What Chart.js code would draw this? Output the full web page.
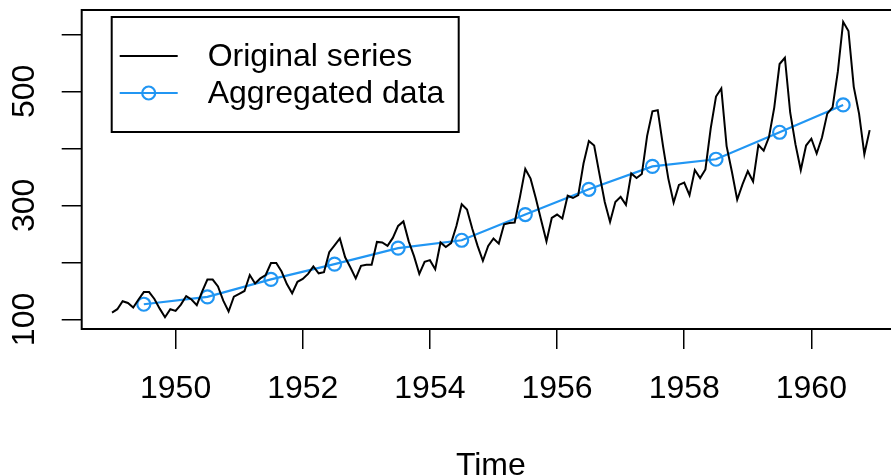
<!DOCTYPE html>
<html>
<head>
<meta charset="utf-8">
<script src="https://cdn.jsdelivr.net/npm/chart.js@4/dist/chart.umd.min.js"></script>
<style>
  html, body { margin: 0; padding: 0; background: #fff; overflow: hidden; }
  #wrap { width: 891px; height: 476px; overflow: hidden; }
</style>
</head>
<body>
<div id="wrap"><canvas id="chart" width="910" height="476"></canvas></div>
<script>
// Monthly airline passengers (thousands), Jan 1949 - Dec 1960
const startYear = 1949;
const passengers = [
  112, 118, 132, 129, 121, 135, 148, 148, 136, 119, 104, 118,
  115, 126, 141, 135, 125, 149, 170, 170, 158, 133, 114, 140,
  145, 150, 178, 163, 172, 178, 199, 199, 184, 162, 146, 166,
  171, 180, 193, 181, 183, 218, 230, 242, 209, 191, 172, 194,
  196, 196, 236, 235, 229, 243, 264, 272, 237, 211, 180, 201,
  204, 188, 235, 227, 234, 264, 302, 293, 259, 229, 203, 229,
  242, 233, 267, 269, 270, 315, 364, 347, 312, 274, 237, 278,
  284, 277, 317, 313, 318, 374, 413, 405, 355, 306, 271, 306,
  315, 301, 356, 348, 355, 422, 465, 467, 404, 347, 305, 336,
  340, 318, 362, 348, 363, 435, 491, 505, 404, 359, 310, 337,
  360, 342, 406, 396, 420, 472, 548, 559, 463, 407, 362, 405,
  417, 391, 419, 461, 472, 535, 622, 606, 508, 461, 390, 432
];

// yearly aggregated values, placed mid-year
const aggYears = [1949.5, 1950.5, 1951.5, 1952.5, 1953.5, 1954.5, 1955.5, 1956.5, 1957.5, 1958.5, 1959.5, 1960.5];
const aggValues = [126.7, 139.7, 170.2, 197.0, 225.0, 238.9, 284.0, 328.3, 368.4, 381.0, 428.3, 476.2];

const xTicks = [1950, 1952, 1954, 1956, 1958, 1960];
const yTicks = [100, 200, 300, 400, 500, 600];
const yLabels = [100, 300, 500];
const legendLabels = ['Original series', 'Aggregated data'];

const FONT = '"Liberation Sans", Arial, Helvetica, sans-serif';
const FONT_SIZE = 32;
const BLUE = '#2196F3';

const originalPoints = passengers.map((v, i) => ({ x: startYear + i / 12, y: v }));
const aggPoints = aggYears.map((x, i) => ({ x, y: aggValues[i] }));

// box around plot, rotated y labels and the legend (base R look)
const basePlot = {
  id: 'basePlot',
  afterDraw(chart) {
    const { ctx, chartArea: a } = chart;
    const yScale = chart.scales.y;
    ctx.save();
    ctx.strokeStyle = '#000';
    ctx.lineWidth = 2;
    ctx.strokeRect(a.left, a.top, a.right - a.left, a.bottom - a.top);

    ctx.fillStyle = '#000';
    ctx.font = FONT_SIZE + 'px ' + FONT;
    ctx.textAlign = 'center';
    ctx.textBaseline = 'middle';
    yLabels.forEach(v => {
      const py = yScale.getPixelForValue(v);
      ctx.save();
      ctx.translate(a.left - 57, py);
      ctx.rotate(-Math.PI / 2);
      ctx.fillText(String(v), 0, 0);
      ctx.restore();
    });

    // legend
    const lx = a.left + 30, ly = a.top + 7;
    ctx.lineWidth = 2;
    ctx.strokeStyle = '#000';
    ctx.strokeRect(lx, ly, 347, 115);
    const rows = [ly + 39, ly + 76];
    ctx.beginPath();
    ctx.moveTo(lx + 8, rows[0]);
    ctx.lineTo(lx + 66, rows[0]);
    ctx.stroke();
    ctx.strokeStyle = BLUE;
    ctx.lineWidth = 2.2;
    ctx.beginPath();
    ctx.moveTo(lx + 8, rows[1]);
    ctx.lineTo(lx + 66, rows[1]);
    ctx.stroke();
    ctx.beginPath();
    ctx.arc(lx + 37, rows[1], 6.5, 0, Math.PI * 2);
    ctx.stroke();
    ctx.textAlign = 'left';
    ctx.fillStyle = '#000';
    legendLabels.forEach((t, i) => ctx.fillText(t, lx + 96, rows[i] + 1));
    ctx.restore();
  }
};

new Chart(document.getElementById('chart'), {
  type: 'line',
  data: {
    datasets: [
      {
        label: legendLabels[0],
        data: originalPoints,
        borderColor: '#000',
        borderWidth: 2,
        pointRadius: 0,
        tension: 0
      },
      {
        label: legendLabels[1],
        data: aggPoints,
        borderColor: BLUE,
        borderWidth: 2.2,
        pointRadius: 6.5,
        pointBorderWidth: 2.2,
        pointBorderColor: BLUE,
        pointBackgroundColor: 'rgba(0,0,0,0)',
        tension: 0
      }
    ]
  },
  options: {
    responsive: false,
    animation: false,
    layout: { padding: { top: 10, right: 10, left: 0, bottom: 0 } },
    plugins: {
      legend: { display: false },
      tooltip: { enabled: false }
    },
    scales: {
      x: {
        type: 'linear',
        min: 1948.523,
        max: 1961.394,
        afterBuildTicks: scale => { scale.ticks = xTicks.map(v => ({ value: v })); },
        afterFit: scale => { scale.height = 147; },
        border: { display: false },
        grid: { drawOnChartArea: false, drawTicks: true, tickLength: 20, color: '#000', lineWidth: 1.5 },
        ticks: {
          color: '#000',
          padding: 21,
          maxRotation: 0,
          font: { family: FONT, size: FONT_SIZE },
          callback: v => String(v)
        },
        title: {
          display: true,
          text: 'Time',
          color: '#000',
          font: { family: FONT, size: FONT_SIZE },
          padding: { top: 0, bottom: -9 }
        }
      },
      y: {
        type: 'linear',
        min: 83.28,
        max: 642.72,
        afterBuildTicks: scale => { scale.ticks = yTicks.map(v => ({ value: v })); },
        afterFit: scale => { scale.width = 81.7; },
        border: { display: false },
        grid: { drawOnChartArea: false, drawTicks: true, tickLength: 20, color: '#000', lineWidth: 1.5 },
        ticks: { display: false }
      }
    }
  },
  plugins: [basePlot]
});
</script>
</body>
</html>
